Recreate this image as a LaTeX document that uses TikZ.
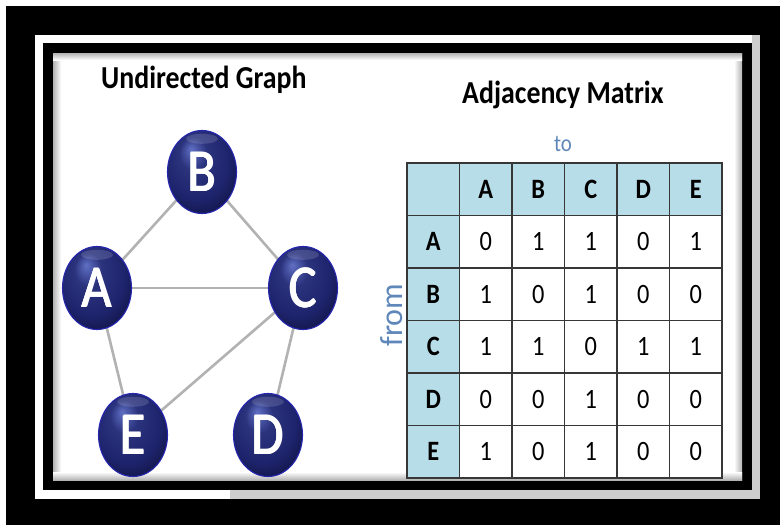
\documentclass[tikz,border=0pt]{standalone}
\usepackage{fontspec}
\setmainfont{Carlito}[FakeStretch=0.87]
\newfontfamily\plainfont{Carlito}
\usetikzlibrary{matrix,shapes.geometric,calc}

\definecolor{navy}{RGB}{30,36,108}
\definecolor{navyhi}{RGB}{96,112,196}
\definecolor{navydark}{RGB}{10,12,52}
\definecolor{rim}{RGB}{38,38,175}
\definecolor{edgegray}{RGB}{178,178,178}
\definecolor{hdrblue}{RGB}{183,221,232}
\definecolor{gridline}{RGB}{55,55,55}
\definecolor{axisblue}{RGB}{95,135,185}
\definecolor{halo}{RGB}{16,16,36}
\definecolor{stripgray}{RGB}{205,205,205}

% glossy sphere fill for the graph vertices
\pgfdeclareradialshading{sphere}{\pgfpoint{-8bp}{14bp}}{%
  color(0bp)=(navyhi); color(10bp)=(navy!80!navyhi); color(24bp)=(navy);
  color(38bp)=(navydark); color(50bp)=(navydark)}

% white capital with a thin dark outline
\newsavebox\capbox
\newcommand\haloed[1]{\sbox\capbox{#1}%
  \rlap{\hspace*{-0.7pt}\textcolor{halo}{\usebox\capbox}}%
  \rlap{\hspace*{0.7pt}\textcolor{halo}{\usebox\capbox}}%
  \rlap{\raisebox{0.7pt}{\textcolor{halo}{\usebox\capbox}}}%
  \rlap{\raisebox{-0.7pt}{\textcolor{halo}{\usebox\capbox}}}%
  \usebox\capbox}

\pgfdeclarelayer{bg}
\pgfdeclarelayer{links}
\pgfsetlayers{bg,links,main}

\tikzset{
  vertex/.style={ellipse, minimum width=69pt, minimum height=83pt, inner sep=0pt,
    shading=sphere, draw=rim, line width=1.1pt, text=white,
    font=\fontsize{60}{60}\selectfont,
    path picture={\fill[white, opacity=0.14]
      ($(path picture bounding box.north)!0.2!(path picture bounding box.center)$)
      ellipse [x radius=16pt, y radius=5pt];}},
  link/.style={draw=edgegray, line width=2.6pt},
  title/.style={anchor=base west, inner sep=0pt, font=\fontsize{32}{36}\selectfont\bfseries},
  cell/.style={draw=gridline, line width=1.2pt, minimum width=52.5pt, minimum height=52.5pt,
    inner sep=0pt, outer sep=0pt, anchor=center, fill=white, font=\fontsize{28}{28}\selectfont},
  hdr/.style={fill=hdrblue, font=\fontsize{28}{28}\selectfont\bfseries},
}

\begin{document}
\begin{tikzpicture}[x=1pt, y=-1pt]
\useasboundingbox (0,0) rectangle (780,525);

% picture frame
\begin{pgfonlayer}{bg}
  \fill[white] (0,0) rectangle (780,525);
  \fill[black] (6,6) rectangle (780,525);
  \fill[stripgray] (35,35) rectangle (760,499);
  \fill[white] (35,35) rectangle (43,499);
  \fill[white] (35,35) rectangle (752,43);
  \fill[white] (35,490) rectangle (230,499);
  \fill[black] (43,43) rectangle (752,490);
  \fill[white] (53,53) rectangle (742,480);
  \shade[left color=gray!60, right color=white] (53,53) rectangle (61,480);
  \shade[left color=white, right color=gray!60] (734,53) rectangle (742,480);
  \shade[top color=gray!60, bottom color=white] (53,53) rectangle (742,60);
  \shade[top color=white, bottom color=gray!60] (53,472) rectangle (742,480);
\end{pgfonlayer}

% titles
\node[title] (gtitle) at (101,88) {Undirected Graph};
\node[title] (mtitle) at (462,103) {Adjacency Matrix};

% graph
\node[vertex] (A) at (97,288) {\haloed{A}};
\node[vertex] (B) at (202,172) {\haloed{B}};
\node[vertex] (C) at (303,288) {\haloed{C}};
\node[vertex] (E) at (133,435) {\haloed{E}};
\node[vertex] (D) at (268,435) {\haloed{D}};

\begin{pgfonlayer}{links}
  \draw[link] (A.center) -- (B.center);
  \draw[link] (B.center) -- (C.center);
  \draw[link] (A.center) -- (C.center);
  \draw[link] (A.center) -- (E.center);
  \draw[link] (C.center) -- (E.center);
  \draw[link] (C.center) -- (D.center);
\end{pgfonlayer}

% adjacency matrix
\node[anchor=base, inner sep=0pt, text=axisblue, font=\fontsize{24}{28}\selectfont] (to) at (563,151) {to};
\node[rotate=90, inner sep=0pt, text=axisblue, font=\plainfont\fontsize{32}{36}\selectfont] (from) at (392,315) {from};

\matrix (adj) [matrix of nodes, nodes in empty cells, anchor=north west, inner sep=0pt, outer sep=0pt,
  column sep=-1.2pt, row sep=-1.2pt, nodes={cell},
  row 1/.style={nodes={hdr}}, column 1/.style={nodes={hdr}}] at (406.4,162.4) {
    & A & B & C & D & E \\
  A & 0 & 1 & 1 & 0 & 1 \\
  B & 1 & 0 & 1 & 0 & 0 \\
  C & 1 & 1 & 0 & 1 & 1 \\
  D & 0 & 0 & 1 & 0 & 0 \\
  E & 1 & 0 & 1 & 0 & 0 \\
};
\end{tikzpicture}
\end{document}
